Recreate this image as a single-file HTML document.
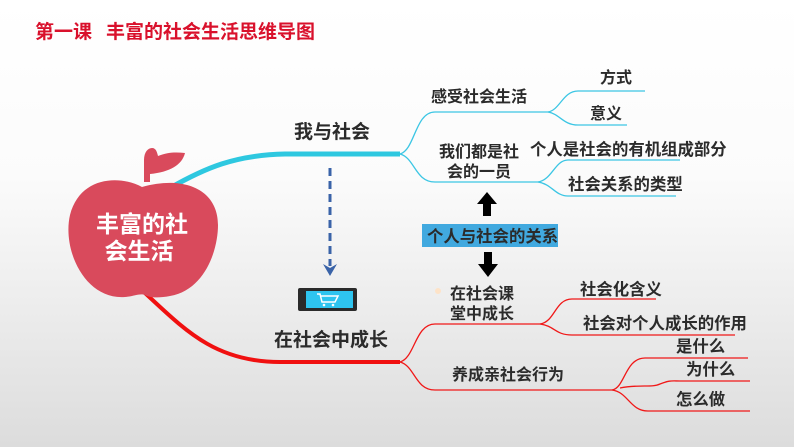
<!DOCTYPE html>
<html><head><meta charset="utf-8"><style>
html,body{margin:0;padding:0}
body{width:794px;height:447px;overflow:hidden;background:linear-gradient(#ffffff 0%,#fbfbfb 40%,#e4e4e4 85%,#dcdcdc 100%);font-family:"Liberation Sans","Noto Sans CJK SC",sans-serif}
svg{position:absolute;left:0;top:0}
text{font-family:"Liberation Sans","Noto Sans CJK SC",sans-serif;font-weight:bold;fill:#2b2b2b}
</style></head><body>
<svg width="794" height="447" viewBox="0 0 794 447">
<text x="35" y="38" font-size="19" style="fill:#d9112c">第一课</text>
<text x="106" y="38" font-size="19" style="fill:#d9112c">丰富的社会生活思维导图</text>
<!-- main branches -->
<path d="M170,188 C205,168 235,155 285,154 L400,154" stroke="#2ec8e0" stroke-width="5" fill="none"/>
<path d="M145,293 C185,330 215,362 280,362 L400,362" stroke="#f01010" stroke-width="4" fill="none"/>
<!-- apple -->
<path d="M144,182 L144,160 C144,152 148,148 152,148 C156,148 157,152 158,156 C168,152 176,152 185,153 C182,165 170,172 150,174 L150,182 Z" fill="#d94a5c"/>
<path d="M142,187 C120,175 80,176 70,215 C62,250 85,300 125,297 C135,296 140,293 145,295 C150,298 160,298 170,296 C205,290 218,250 218,225 C218,190 185,175 142,187 Z" fill="#d94a5c"/>
<text x="142" y="232" font-size="23" text-anchor="middle" style="fill:#fff">丰富的社</text>
<text x="139" y="259" font-size="23" text-anchor="middle" style="fill:#fff">会生活</text>
<text x="294" y="138" font-size="19">我与社会</text>
<text x="274" y="346" font-size="19">在社会中成长</text>
<!-- dashed arrow -->
<line x1="330" y1="168" x2="330" y2="266" stroke="#3a63a8" stroke-width="3" stroke-dasharray="8,5"/>
<path d="M323,264 L330,276 L337,264 L330,268 Z" fill="#3a63a8"/>
<!-- phone -->
<rect x="298" y="288" width="59" height="23" rx="2" fill="#2a2a2a"/>
<rect x="306" y="291" width="47" height="17" fill="#2ec4ef"/>
<path d="M317,294 L320,294 L322,302 L335,302 L338,296 L321,296" stroke="#fff" stroke-width="1.5" fill="none"/>
<circle cx="324" cy="305" r="1.3" fill="#fff"/><circle cx="333" cy="305" r="1.3" fill="#fff"/>
<!-- top subtree -->
<g stroke="#3cc6e4" stroke-width="1.3" fill="none">
<path d="M400,154 C415,150 415,112 435,112 L548,112"/>
<path d="M400,154 C415,158 415,182 435,182 L538,182"/>
<path d="M548,112 C560,110 563,91 578,91 L645,91"/>
<path d="M548,112 C560,114 563,125 578,125 L627,125"/>
<path d="M538,182 C552,180 555,160 568,160 L680,160"/>
<path d="M538,182 C552,184 555,196 568,196 L676,196"/>
</g>
<text x="431" y="102" font-size="16">感受社会生活</text>
<text x="439" y="157" font-size="16">我们都是社</text>
<text x="447" y="177" font-size="16">会的一员</text>
<text x="600" y="83" font-size="16">方式</text>
<text x="590" y="119" font-size="16">意义</text>
<text x="530" y="155" font-size="16.4">个人是社会的有机组成部分</text>
<text x="568" y="190" font-size="16.4">社会关系的类型</text>
<!-- center relation -->
<path d="M487,192 L497,204 L491,204 L491,216 L483,216 L483,204 L477,204 Z" fill="#000"/>
<rect x="422" y="224" width="136" height="23" fill="#41a9df"/>
<text x="427" y="242" font-size="16.4">个人与社会的关系</text>
<path d="M484,252 L492,252 L492,264 L498,264 L488,277 L478,264 L484,264 Z" fill="#000"/>
<!-- bottom subtree -->
<g stroke="#f01818" stroke-width="1.3" fill="none">
<path d="M400,362 C415,358 415,324 435,324 L540,324"/>
<path d="M400,362 C415,366 415,390 435,390 L612,390"/>
<path d="M540,324 C555,322 555,299 572,299 L656,299"/>
<path d="M540,324 C555,326 555,335 572,335 L735,335"/>
<path d="M612,390 C625,388 625,358 645,358 L748,358"/>
<path d="M620,388 C640,384 652,388 660,384 C670,380 672,381 680,381 L750,381"/>
<path d="M612,390 C628,392 630,411 648,411 L750,411"/>
</g>
<circle cx="438" cy="291" r="3" fill="#fde3c8"/>
<text x="450" y="299" font-size="16">在社会课</text>
<text x="450" y="319" font-size="16">堂中成长</text>
<text x="452" y="380" font-size="16">养成亲社会行为</text>
<text x="580" y="295" font-size="16.4">社会化含义</text>
<text x="583" y="329" font-size="16.4">社会对个人成长的作用</text>
<text x="676" y="352" font-size="16.4">是什么</text>
<text x="686" y="375" font-size="16.4">为什么</text>
<text x="676" y="405" font-size="16.4">怎么做</text>
</svg>
</body></html>
